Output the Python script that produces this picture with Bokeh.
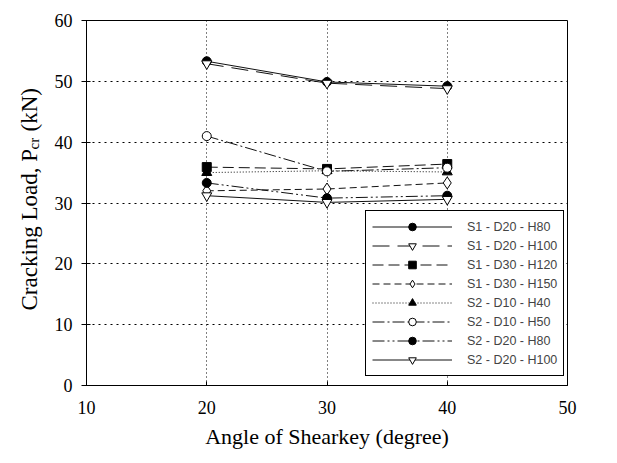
import math
from bokeh.plotting import figure
from bokeh.layouts import row
from bokeh.models import Range1d, FixedTicker, Legend, LegendItem
from bokeh.core.properties import value
from bokeh.embed import file_html
from bokeh.resources import INLINE

# ---------------- data ----------------
angles = [20, 30, 40]
x_ticks = [10, 20, 30, 40, 50]
y_ticks = [0, 10, 20, 30, 40, 50, 60]

names = ["S1 - D20 - H80", "S1 - D20 - H100", "S1 - D30 - H120", "S1 - D30 - H150",
         "S2 - D10 - H40", "S2 - D10 - H50", "S2 - D20 - H80", "S2 - D20 - H100"]

s1_d20_h80 = [53.3, 49.9, 49.2]
s1_d20_h100 = [52.9, 49.7, 48.8]
s1_d30_h120 = [35.9, 35.6, 36.4]
s1_d30_h150 = [32.0, 32.3, 33.3]
s2_d10_h40 = [35.0, 35.3, 35.1]
s2_d10_h50 = [41.0, 35.2, 35.8]
s2_d20_h80 = [33.3, 30.8, 31.2]
s2_d20_h100 = [31.2, 30.1, 30.6]

values = [s1_d20_h80, s1_d20_h100, s1_d30_h120, s1_d30_h150,
          s2_d10_h40, s2_d10_h50, s2_d20_h80, s2_d20_h100]

x_title = "Angle of Shearkey (degree)"
y_title_parts = ["Cracking Load, P", "cr", "(kN)"]

# styles
dashes = ["solid", "17 8", "11 5", "7 4", "1 2", "12 3 2 3", "12 3 2 3 2 3", "solid"]
markers = ["circle", "inverted_triangle", "square", "diamond",
           "triangle", "circle", "circle", "inverted_triangle"]
fills = ["black", "white", "black", "white", "black", "white", "black", "white"]
sizes = [9, 10, 9, 12, 10, 9, 9, 10]

SERIF = "Liberation Serif"
SANS = "Liberation Sans"
TOP, FH, BOT = 20, 365, 70

p = figure(frame_width=481, frame_height=FH,
           min_border_left=36, min_border_right=34, min_border_top=TOP, min_border_bottom=BOT,
           x_range=Range1d(10, 50), y_range=Range1d(0, 60),
           output_backend="svg", toolbar_location=None)
p.background_fill_color = "white"
p.border_fill_color = "white"
p.outline_line_color = "black"
p.outline_line_alpha = 1.0
p.outline_line_width = 1

for ax in (p.xaxis[0], p.yaxis[0]):
    ax.axis_line_color = "black"
    ax.major_tick_line_color = "black"
    ax.minor_tick_line_color = None
    ax.major_label_text_font = SERIF
    ax.major_label_text_font_size = "18px"
    ax.major_label_text_color = "black"

p.xaxis.ticker = FixedTicker(ticks=x_ticks)
p.yaxis.ticker = FixedTicker(ticks=y_ticks)
p.xaxis.major_tick_in = 4
p.xaxis.major_tick_out = 0
p.yaxis.major_tick_in = 4
p.yaxis.major_tick_out = 5
p.xaxis.major_label_standoff = 15
p.yaxis.major_label_standoff = 9

p.xaxis.axis_label = x_title
p.xaxis.axis_label_text_font = SERIF
p.xaxis.axis_label_text_font_size = "22px"
p.xaxis.axis_label_text_font_style = "normal"
p.xaxis.axis_label_text_color = "black"
p.xaxis.axis_label_standoff = 7

p.xgrid.ticker = FixedTicker(ticks=[20, 30, 40])
p.ygrid.ticker = FixedTicker(ticks=[10, 20, 30, 40, 50])
p.xgrid.grid_line_color = "black"
p.ygrid.grid_line_color = "black"
p.xgrid.grid_line_dash = "1 3"
p.ygrid.grid_line_dash = "2 4"

items = []
for name, vals, dash, mk, fc, sz in zip(names, values, dashes, markers, fills, sizes):
    lr = p.line(angles, vals, line_color="#111111", line_width=1, line_dash=dash)
    sr = p.scatter(angles, vals, marker=mk, size=sz, fill_color=fc, line_color="black", line_width=1)
    items.append(LegendItem(label=name, renderers=[lr, sr]))

legend = Legend(items=items, location=(279, 9))
legend.border_line_color = "black"
legend.border_line_width = 1
legend.border_line_alpha = 1
legend.background_fill_color = "white"
legend.background_fill_alpha = 1
legend.label_text_font = SANS
legend.label_text_font_size = "12.5px"
legend.glyph_width = 80
legend.glyph_height = 19
legend.label_height = 19
legend.spacing = 0
legend.padding = 6
legend.label_standoff = 15
legend.margin = 0
p.add_layout(legend)

# ---- y-axis title panel (rotated text with subscript) ----
# its frame is aligned with the main frame: y = distance above the frame bottom
q = figure(frame_width=50, frame_height=FH, x_range=Range1d(0, 50), y_range=Range1d(0, FH),
           x_axis_location=None, y_axis_location=None,
           min_border_left=0, min_border_right=0, min_border_top=TOP, min_border_bottom=BOT,
           output_backend="svg", toolbar_location=None)
q.outline_line_color = None
q.xgrid.visible = False
q.ygrid.visible = False
q.background_fill_color = "white"
q.border_fill_color = "white"

base = TOP + FH
q.text(x=[29], y=[base - 310], text=[y_title_parts[0]], angle=math.pi / 2,
       text_font=value(SERIF), text_font_size="23px", text_align="left",
       text_baseline="alphabetic", text_color="black")
q.text(x=[33], y=[base - 149], text=[y_title_parts[1]], angle=math.pi / 2,
       text_font=value(SERIF), text_font_size="15px", text_align="left",
       text_baseline="alphabetic", text_color="black")
q.text(x=[29], y=[base - 131], text=[y_title_parts[2]], angle=math.pi / 2,
       text_font=value(SERIF), text_font_size="23px", text_align="left",
       text_baseline="alphabetic", text_color="black")

layout = row(q, p, spacing=0)
open("out.html", "w").write(file_html(layout, INLINE))
